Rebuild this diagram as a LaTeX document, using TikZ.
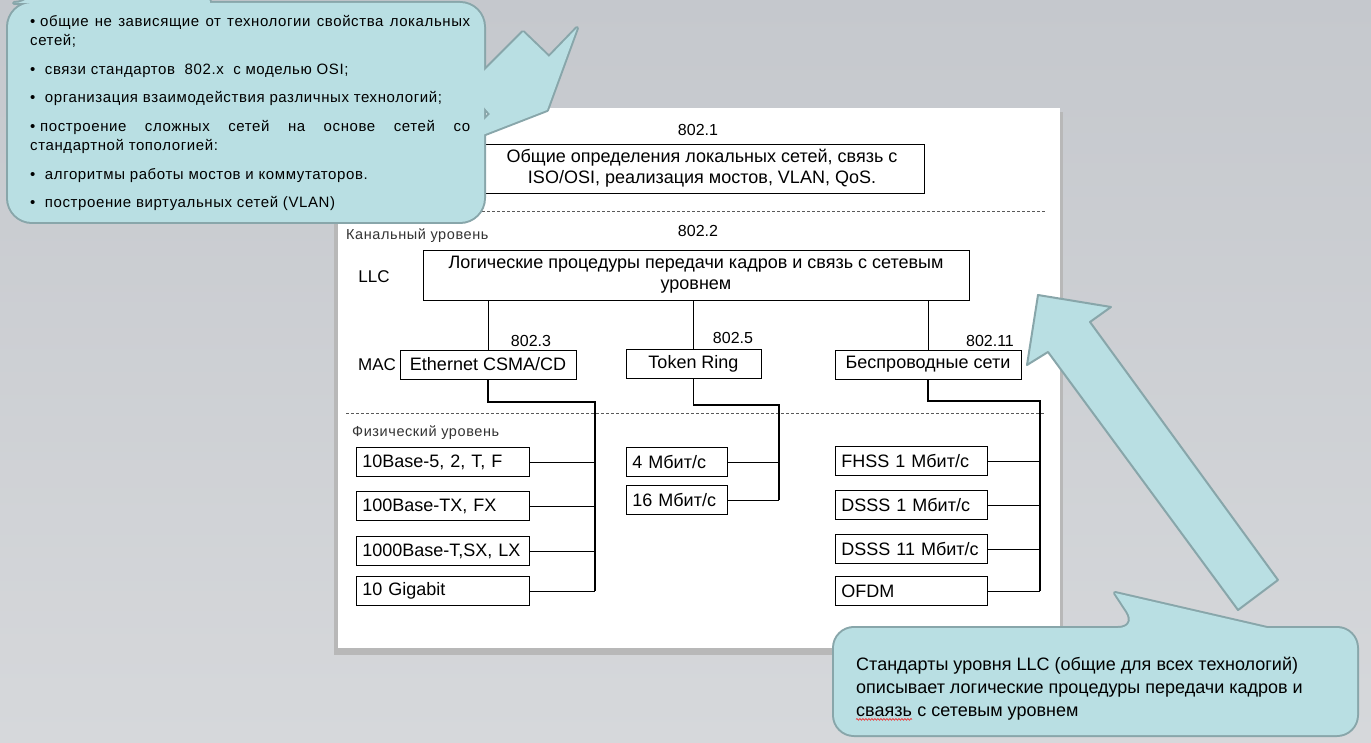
\documentclass[tikz,border=0pt]{standalone}
\usepackage{fontspec}
\setmainfont{Liberation Sans}
\newfontfamily\spacedsans[LetterSpace=4]{Liberation Sans}
\usetikzlibrary{positioning,decorations.pathmorphing}

\definecolor{slidetop}{RGB}{197,200,205}
\definecolor{slidebottom}{RGB}{214,216,219}
\definecolor{bubblefill}{RGB}{185,223,227}
\definecolor{bubbleedge}{RGB}{136,166,170}

\newcommand\diagfont{\fontsize{18}{21}\selectfont}
\newcommand\numfont{\fontsize{16}{19}\selectfont}
\newcommand\pointsfont{\spacedsans\fontsize{15}{19.5}\selectfont}
\newcommand\layerfont{\spacedsans\fontsize{14.5}{17}\selectfont}
\newcommand\notefont{\fontsize{18}{23}\selectfont}
\newcommand\topbubblepath{[rounded corners=24pt] (8,222) -- (8,3) -- (38,3) [sharp corners] -- (32,-40) -- (204,-40) -- (210,3) [rounded corners=24pt] -- (484,3) -- (484,222) -- cycle}
\newcommand\toppointer{(467,88) -- (523,32) -- (549,57) -- (577,28) -- (547,110) -- (462,143) -- (490,114) -- cycle}
\newcommand\lowbubblepath{[rounded corners=20pt] (834,680) -- (834,628) -- (1138,628) [sharp corners] -- (1115,593) -- (1267,628) [rounded corners=20pt] -- (1357,628) -- (1357,735) -- (834,735) -- cycle}

\begin{document}
\begin{tikzpicture}[x=1pt, y=-1pt,
  box/.style={draw, line width=0.8pt, inner xsep=7pt, inner ysep=0pt, font=\diagfont},
  stdbox/.style={box, align=center},
  phys/.style={box, anchor=north west, inner xsep=6pt, minimum height=29pt, text width=#1, align=left},
  num/.style={font=\numfont},
  side/.style={font=\fontsize{17}{19}\selectfont},
  layer/.style={font=\layerfont, text=black!80, anchor=west, inner xsep=0pt},
  link/.style={line width=0.7pt},
  bus/.style={line width=1.4pt},
  sep/.style={gray!70!black, line width=0.8pt, dash pattern=on 3pt off 2pt},
  bubble/.style={fill=bubblefill},
  rim/.style={draw=bubbleedge, line width=4pt, line join=round}
]
\useasboundingbox (0,0) rectangle (1371,743);
\shade[top color=slidetop, bottom color=slidebottom] (0,0) rectangle (1371,743);
\fill[black!28] (334,112) rectangle (1063,655);
\fill[white] (338,108) rectangle (1060,648);

\draw[sep] (342,211) -- (1045,211);
\draw[sep] (346,413) -- (1045,413);

\node[num] (n1) at (698,130) {802.1};
\node[stdbox, minimum width=444pt, minimum height=49pt] (gen) at (702,168.5)
  {Общие определения локальных сетей, связь с\\ISO/OSI, реализация мостов, VLAN, QoS.};

\node[layer] (chan) at (346,236) {Канальный уровень};
\node[num] (n2) at (698,231) {802.2};
\node[side] (llclbl) at (374,277) {LLC};
\node[stdbox, minimum width=546pt, minimum height=50pt] (llc) at (696,275)
  {Логические процедуры передачи кадров и связь с сетевым\\уровнем};

\node[side] (maclbl) at (377,365) {MAC};
\node[box, minimum width=176pt, minimum height=29pt] (eth) at (488,364.5) {Ethernet CSMA/CD};
\node[box, minimum width=135pt, minimum height=29pt] (tr) at (693.5,363.5) {Token Ring};
\node[box, minimum width=186pt, minimum height=29pt] (wl) at (928,364.5) {Беспроводные сети};
\node[num] (n3) at (531,341) {802.3};
\node[num] (n5) at (733,338) {802.5};
\node[num] (n11) at (990,341) {802.11};

\foreach \m in {eth,tr,wl}
  \draw[link] (\m.north) -- (\m.north |- llc.south);

\node[layer] (phy) at (352,433) {Физический уровень};
\node[phys=161pt] (b10) at (356,447) {10Base-5, 2, T, F};
\node[phys=161pt] (b100) at (356,491) {100Base-TX, FX};
\node[phys=161pt] (b1000) at (356,536) {1000Base-T,SX, LX};
\node[phys=161pt] (g10) at (356,576) {10 Gigabit};
\node[phys=89pt] (m4) at (626,447) {4 Мбит/с};
\node[phys=89pt] (m16) at (626,485) {16 Мбит/с};
\node[phys=140pt] (fhss) at (835,446) {FHSS 1 Мбит/с};
\node[phys=140pt] (dsss1) at (835,490) {DSSS 1 Мбит/с};
\node[phys=140pt] (dsss11) at (835,534) {DSSS 11 Мбит/с};
\node[phys=140pt] (ofdm) at (835,576) {OFDM};

\coordinate (ethbus) at (595,402);
\coordinate (trbus) at (779,405);
\coordinate (wlbus) at (1040,401);
\draw[bus] (eth.south) |- (ethbus) -- (ethbus |- g10.east);
\draw[bus] (tr.south) |- (trbus) -- (trbus |- m16.east);
\draw[bus] (wl.south) |- (wlbus) -- (wlbus |- ofdm.east);
\foreach \p in {b10,b100,b1000,g10}
  \draw[link] (\p.east) -- (\p.east -| ethbus);
\foreach \p in {m4,m16}
  \draw[link] (\p.east) -- (\p.east -| trbus);
\foreach \p in {fhss,dsss1,dsss11,ofdm}
  \draw[link] (\p.east) -- (\p.east -| wlbus);

\draw[rim] \topbubblepath;
\draw[rim] \toppointer;
\fill[bubble] \topbubblepath;
\fill[bubble] \toppointer;
\node[anchor=north west, inner sep=0pt, align=left, font=\pointsfont] (points) at (30,15)
  {\makebox[440pt][s]{\mbox{• общие} не зависящие от технологии свойства локальных}\\
   сетей;\\[9pt]
   •\ \ связи стандартов\ \ 802.x\ \ с моделью OSI;\\[9pt]
   •\ \ организация взаимодействия различных технологий;\\[9pt]
   \makebox[440pt][s]{\mbox{• построение} сложных сетей на основе сетей со}\\
   стандартной топологией:\\[9pt]
   •\ \ алгоритмы работы мостов и коммутаторов.\\[9pt]
   •\ \ построение виртуальных сетей (VLAN)};

\filldraw[bubble, draw=bubbleedge, line width=2pt, line join=round]
  (1038,295) -- (1111,307) -- (1090,322) -- (1278,580) -- (1238,610) -- (1048,352) -- (1027,365) -- cycle;

\draw[rim] \lowbubblepath;
\fill[bubble] \lowbubblepath;
\node[anchor=base west, inner sep=0pt, font=\notefont] (note1) at (856,670) {Стандарты уровня LLC (общие для всех технологий)};
\node[anchor=base west, inner sep=0pt, font=\notefont] (note2) at (856,693) {описывает логические процедуры передачи кадров и};
\node[anchor=base west, inner sep=0pt, font=\notefont] (note3) at (856,716) {сваязь};
\node[anchor=base west, inner sep=0pt, font=\notefont] (note4) at (note3.base east) {\ с сетевым уровнем};
\draw[red, line width=0.5pt, decorate, decoration={snake, amplitude=0.9pt, segment length=3pt}]
  ([yshift=-3pt]note3.south west) -- ([yshift=-3pt]note3.south east);
\end{tikzpicture}
\end{document}
